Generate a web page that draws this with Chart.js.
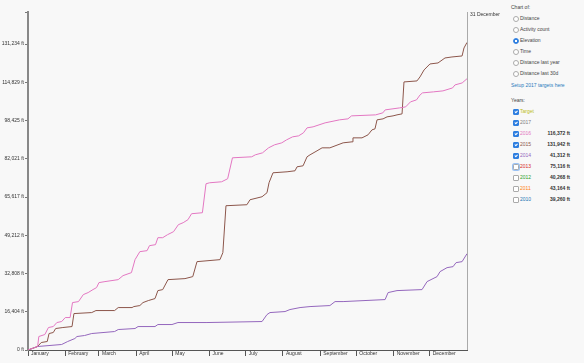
<!DOCTYPE html>
<html>
<head>
<meta charset="utf-8">
<script src="https://cdn.jsdelivr.net/npm/chart.js@4/dist/chart.umd.min.js"></script>
<style>
  body { margin: 0; background: #f8f8f8; font-family: 'Liberation Sans', Arial, sans-serif; }
  #wrap { position: relative; width: 584px; height: 363px; overflow: hidden; }
  #myChart { position: absolute; left: 0; top: 0; }
  .side { position: absolute; font-size: 5px; color: #444; line-height: 6px; white-space: nowrap; }
  .radio { position: absolute; left: 513px; width: 4px; height: 4px; border: 0.6px solid #aaa; border-radius: 50%; background: #fff; }
  .radio.on { border-color: #2f7fe0; background: radial-gradient(circle, #fff 0 0.8px, #2f7fe0 1.1px); }
  .check { position: absolute; left: 513px; width: 4px; height: 4px; border: 0.6px solid #aaa; border-radius: 1px; background: #fff; }
  .check.on { border-color: #2f7fe0; background: #2f7fe0; }
  .check.on::after { content: ''; position: absolute; left: 1.3px; top: 0.2px; width: 1.2px; height: 2.4px; border: solid #fff; border-width: 0 0.7px 0.7px 0; transform: rotate(45deg); }
  .check.focus { box-shadow: 0 0 0 1px #9cc3f5; border-radius: 1.5px; }
  .val { position: absolute; left: 540px; width: 30px; text-align: right; font-weight: bold; color: #333; }
</style>
</head>
<body>
<div id="wrap">
  <canvas id="myChart" width="505" height="363"></canvas>
  <div id="side"></div>
</div>
<script>
// months on the x axis (day of year where each month starts)
const monthNames = ['January', 'February', 'March', 'April', 'May', 'June', 'July', 'August', 'September', 'October', 'November', 'December'];
const monthStarts = [0, 31, 59, 90, 120, 151, 181, 212, 243, 273, 304, 334];

// y axis ticks (ft)
const yTickValues = [0, 16404, 32808, 49213, 65617, 82021, 98425, 114829, 131234];
const yTickLabels = ['0 ft', '16,404 ft', '32,808 ft', '49,212 ft', '65,617 ft', '82,021 ft', '98,425 ft', '114,829 ft', '131,234 ft'];
const yMax = 145000;

// 2016 cumulative elevation (day of year, ft)
const days2016 = [0, 8, 9, 14, 17, 21, 24, 28, 31, 35, 37, 42, 46, 50, 54, 57, 59, 64, 75, 79, 86, 89, 93, 99, 101, 106, 108, 112, 116, 121, 125, 129, 133, 136, 145, 148, 151, 161, 166, 170, 186, 189, 195, 200, 205, 211, 215, 220, 225, 229, 232, 237, 247, 259, 266, 269, 289, 295, 297, 309, 314, 318, 323, 326, 328, 337, 345, 353, 355, 361, 365];
const elev2016 = [0, 1500, 5780, 6640, 9640, 10060, 11780, 12210, 13920, 13920, 20340, 20770, 23770, 24630, 25910, 26770, 28910, 29340, 30190, 31910, 33190, 38760, 42190, 42620, 44760, 45190, 48180, 48180, 49470, 50760, 53750, 54610, 55900, 58460, 58890, 71310, 71740, 72170, 73460, 82450, 82880, 83730, 84590, 86730, 88020, 88870, 90160, 91440, 91870, 93160, 95300, 95730, 97440, 98730, 99160, 100440, 100870, 101730, 103010, 103870, 104300, 106440, 107300, 109440, 110300, 110730, 111160, 112430, 113720, 114580, 116372];

// 2015
const days2015 = [0, 8, 11, 16, 17.5, 21, 23, 29, 36.6, 38.2, 53, 56.5, 72, 75, 86.5, 88, 93, 95.6, 100, 105.6, 108, 112, 116.4, 130.5, 137, 140.5, 159.6, 162, 164.6, 182, 184.6, 194.6, 198.7, 200.4, 203.7, 215.4, 222, 223.7, 228.7, 232, 234.5, 240.3, 244.5, 251, 262, 269.4, 270.2, 277.7, 282.7, 286, 288.5, 290.2, 295.2, 298.5, 303.5, 306.8, 311, 312.6, 323.4, 325.9, 329.3, 334.2, 340.9, 346.7, 352.5, 360.9, 362.5, 365];
const elev2015 = [0, 1500, 3210, 3640, 7070, 7500, 9210, 9640, 10060, 15630, 16060, 16920, 16920, 18200, 18200, 18630, 19060, 20340, 21200, 22060, 25480, 25910, 30190, 30620, 31480, 37900, 38760, 41760, 61890, 62320, 64460, 65750, 67460, 71740, 76020, 76450, 76880, 78590, 79020, 82880, 83730, 85450, 86730, 86730, 88870, 89300, 91010, 91010, 92300, 94440, 94870, 98730, 99160, 100010, 100440, 100870, 101300, 115000, 115430, 117140, 120140, 122710, 123140, 125280, 125710, 126140, 129570, 131942];

// 2014
const days2014 = [0, 8, 28, 33, 39, 40.7, 47, 53, 72, 75, 89, 91.5, 105.6, 108, 119.7, 124.7, 148.8, 194.6, 198.7, 201.2, 213.7, 217.8, 226.2, 234.5, 251, 255.3, 262, 296.9, 299.4, 306.8, 327.6, 331.8, 340.1, 342.6, 348.4, 353.4, 355.9, 360.9, 365];
const elev2014 = [0, 1500, 2360, 3640, 4930, 5780, 6210, 7070, 7920, 8780, 9210, 10060, 10060, 10920, 10920, 11780, 11780, 12210, 15200, 16060, 16490, 17350, 18200, 18630, 19060, 20770, 20770, 21630, 24630, 25480, 25910, 29340, 31480, 33620, 35330, 35760, 37480, 37900, 41312];

// sidebar
const chartOf = ['Distance', 'Activity count', 'Elevation', 'Time', 'Distance last year', 'Distance last 30d'];
const selectedChart = 'Elevation';
const years = ['Target', '2017', '2016', '2015', '2014', '2013', '2012', '2011', '2010'];
const yearColors = ['#bcbd22', '#7f7f7f', '#e377c2', '#8c564b', '#9467bd', '#d62728', '#2ca02c', '#ff7f0e', '#1f77b4'];
const yearChecked = [true, true, true, true, true, false, false, false, false];
const yearTotals = ['', '', '116,372 ft', '131,942 ft', '41,312 ft', '75,116 ft', '40,268 ft', '43,164 ft', '39,260 ft'];

const side = document.getElementById('side');
let html = '<div class="side" style="left:511px;top:4px">Chart of:</div>';
chartOf.forEach((name, i) => {
  const y = 15 + i * 11;
  html += `<div class="radio${name === selectedChart ? ' on' : ''}" style="top:${y + 0.5}px"></div>`;
  html += `<div class="side" style="left:520px;top:${y}px">${name}</div>`;
});
html += '<div class="side" style="left:511px;top:82px;color:#2a7bbd">Setup 2017 targets here</div>';
html += '<div class="side" style="left:511px;top:97px">Years:</div>';
years.forEach((name, i) => {
  const y = 108 + i * 11;
  let cls = 'check' + (yearChecked[i] ? ' on' : '') + (name === '2013' ? ' focus' : '');
  html += `<div class="${cls}" style="top:${y + 0.5}px"></div>`;
  html += `<div class="side" style="left:520px;top:${y}px;color:${yearColors[i]}">${name}</div>`;
  if (yearTotals[i]) html += `<div class="side val" style="top:${y}px">${yearTotals[i]}</div>`;
});
side.innerHTML = html;

const toPoints = (days, vals) => days.map((d, i) => ({ x: d, y: vals[i] }));

// right edge line + date label
const endLine = {
  id: 'endLine',
  afterDraw(chart) {
    const { ctx, chartArea } = chart;
    ctx.save();
    ctx.strokeStyle = '#aaa';
    ctx.lineWidth = 1;
    ctx.beginPath();
    ctx.moveTo(chartArea.right + 0.5, chartArea.top);
    ctx.lineTo(chartArea.right + 0.5, chartArea.bottom);
    ctx.stroke();
    ctx.fillStyle = '#333';
    ctx.font = "5px 'Liberation Sans', Arial";
    ctx.textBaseline = 'top';
    ctx.fillText('31 December', chartArea.right + 3, chartArea.top);
    ctx.restore();
  }
};

const font = { family: "'Liberation Sans', Arial", size: 5 };

const myChart = new Chart(document.getElementById('myChart'), {
  type: 'line',
  data: {
    datasets: [
      { label: '2016', data: toPoints(days2016, elev2016), borderColor: '#e377c2' },
      { label: '2015', data: toPoints(days2015, elev2015), borderColor: '#8c564b' },
      { label: '2014', data: toPoints(days2014, elev2014), borderColor: '#9467bd' },
    ]
  },
  options: {
    responsive: false,
    animation: false,
    elements: { point: { radius: 0 }, line: { borderWidth: 1, tension: 0 } },
    layout: { padding: { top: 12, right: 38, left: 0, bottom: 0 } },
    plugins: { legend: { display: false }, tooltip: { enabled: false } },
    scales: {
      x: {
        type: 'linear',
        min: 0,
        max: 365,
        afterBuildTicks: (axis) => { axis.ticks = monthStarts.map(v => ({ value: v })); },
        afterFit: (axis) => { axis.height = 13; },
        ticks: {
          font: font,
          color: '#333',
          align: 'start',
          labelOffset: 3,
          padding: -5,
          maxRotation: 0,
          autoSkip: false,
          callback: (v, i) => monthNames[i],
        },
        grid: { drawOnChartArea: false, tickLength: 6, color: '#555' },
        border: { color: '#555', width: 1 },
      },
      y: {
        min: 0,
        max: yMax,
        afterBuildTicks: (axis) => { axis.ticks = yTickValues.concat([yMax]).map(v => ({ value: v })); },
        afterFit: (axis) => { axis.width = 28; },
        ticks: {
          font: font,
          color: '#333',
          padding: 1,
          callback: (v, i) => yTickLabels[i] || '',
        },
        grid: { drawOnChartArea: false, tickLength: 3, color: '#777' },
        border: { color: '#888', width: 2 },
      }
    }
  },
  plugins: [endLine]
});
</script>
</body>
</html>
